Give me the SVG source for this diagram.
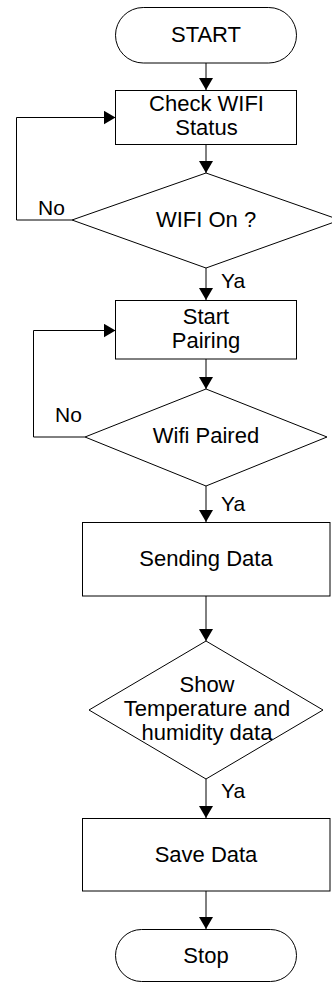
<svg xmlns="http://www.w3.org/2000/svg" width="332" height="982" viewBox="0 0 332 982">
<style>
.s{fill:#fff;stroke:#000;stroke-width:1}
.t{font-family:"Liberation Sans",Arial,sans-serif;font-size:22px;fill:#000;text-anchor:middle}
.l{font-family:"Liberation Sans",Arial,sans-serif;font-size:21px;fill:#000}
.c{fill:none;stroke:#000;stroke-width:1}
</style>
<defs>
<marker id="ah" viewBox="0 0 12 14" refX="12" refY="7" markerWidth="12" markerHeight="14" markerUnits="userSpaceOnUse" orient="auto">
<path d="M0,0 L12,7 L0,14 z" fill="#000"/>
</marker>
</defs>
<g id="connectors">
<path class="c" d="M206,63 V90" marker-end="url(#ah)"/>
<path class="c" d="M206,145 V173" marker-end="url(#ah)"/>
<path class="c" d="M72,220 H16.5 V117.5 H115.5" marker-end="url(#ah)"/>
<path class="c" d="M206,268 V300" marker-end="url(#ah)"/>
<path class="c" d="M206,359 V389" marker-end="url(#ah)"/>
<path class="c" d="M85,437 H33.5 V330.5 H115.5" marker-end="url(#ah)"/>
<path class="c" d="M206,486 V522" marker-end="url(#ah)"/>
<path class="c" d="M206,596 V641" marker-end="url(#ah)"/>
<path class="c" d="M206,779 V818" marker-end="url(#ah)"/>
<path class="c" d="M206,891 V929" marker-end="url(#ah)"/>
<text class="l" x="38" y="215">No</text>
<text class="l" x="221" y="288">Ya</text>
<text class="l" x="55" y="422">No</text>
<text class="l" x="221" y="511">Ya</text>
<text class="l" x="221" y="798">Ya</text>
</g>
<g id="start">
<rect class="s" x="115.5" y="7.5" width="181" height="55.5" rx="27.75" ry="27.75"/>
<text class="t" x="206" y="42">START</text>
</g>
<g id="check">
<rect class="s" x="115.5" y="90.5" width="181" height="54"/>
<text class="t" x="206.5" y="111">Check WIFI</text>
<text class="t" x="206.5" y="135">Status</text>
</g>
<g id="wifion">
<polygon class="s" points="206,173 340,220 206,268 72,220"/>
<text class="t" x="206" y="227">WIFI On ?</text>
</g>
<g id="pairing">
<rect class="s" x="115.5" y="300.5" width="181" height="58.5"/>
<text class="t" x="206" y="324">Start</text>
<text class="t" x="206" y="348">Pairing</text>
</g>
<g id="paired">
<polygon class="s" points="206,389 327,437 206,486 85,437"/>
<text class="t" x="206" y="443">Wifi Paired</text>
</g>
<g id="sending">
<rect class="s" x="82.5" y="522.5" width="247.5" height="73.5"/>
<text class="t" x="206" y="566">Sending Data</text>
</g>
<g id="show">
<polygon class="s" points="206,641 323,710 206,779 89,710"/>
<text class="t" x="207" y="692">Show</text>
<text class="t" x="207" y="716">Temperature and</text>
<text class="t" x="207" y="740">humidity data</text>
</g>
<g id="save">
<rect class="s" x="82.5" y="818.5" width="247.5" height="72.5"/>
<text class="t" x="206" y="862">Save Data</text>
</g>
<g id="stop">
<rect class="s" x="115.5" y="929.5" width="181" height="52" rx="26" ry="26"/>
<text class="t" x="206" y="963">Stop</text>
</g>
</svg>
